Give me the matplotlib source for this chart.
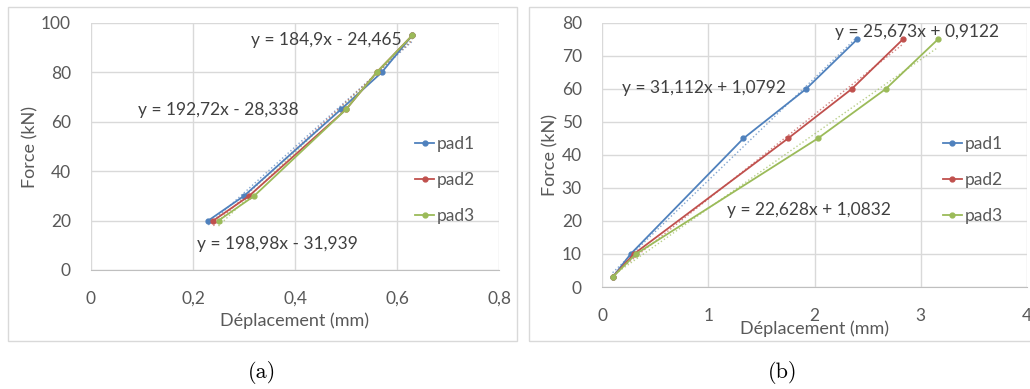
import numpy as np
import matplotlib
matplotlib.use("Agg")
import matplotlib.pyplot as plt
from matplotlib.patches import Rectangle

# donnees
force_a = [20, 30, 65, 80, 95]
dep_a_pad1 = [0.23, 0.30, 0.49, 0.57, 0.63]
dep_a_pad2 = [0.24, 0.31, 0.50, 0.56, 0.63]
dep_a_pad3 = [0.25, 0.32, 0.50, 0.56, 0.63]
eq_a = ["y = 184,9x - 24,465", "y = 192,72x - 28,338", "y = 198,98x - 31,939"]

force_b = [3, 10, 45, 60, 75]
dep_b_pad1 = [0.10, 0.27, 1.33, 1.92, 2.40]
dep_b_pad2 = [0.10, 0.30, 1.75, 2.35, 2.83]
dep_b_pad3 = [0.10, 0.32, 2.03, 2.67, 3.16]
eq_b = ["y = 25,673x + 0,9122", "y = 31,112x + 1,0792", "y = 22,628x + 1,0832"]

noms = ["pad1", "pad2", "pad3"]
couleurs = ["#4F81BD", "#C0504D", "#9BBB59"]

plt.rcParams['font.family'] = ['Lato', 'DejaVu Sans']
W, H = 1030, 389
fig = plt.figure(figsize=(W / 100, H / 100), dpi=100)


def px(x, y):
    return x / W, 1 - y / H


def axe(x0, y0, x1, y1):
    return fig.add_axes([x0 / W, 1 - y1 / H, (x1 - x0) / W, (y1 - y0) / H])


# cadres gris des deux graphes
fig.patches.append(Rectangle(px(8, 341), 509 / W, 334 / H, transform=fig.transFigure,
                             fill=False, ec="#d9d9d9", lw=1))
fig.patches.append(Rectangle(px(529, 341), 510 / W, 334 / H, transform=fig.transFigure,
                             fill=False, ec="#d9d9d9", lw=1))


def graphe(ax, force, deps, xlim, ylim, xticks, yticks, xfmt):
    for d, nom, c in zip(deps, noms, couleurs):
        ax.plot(d, force, color=c, lw=1.3, marker="o", ms=3.5, label=nom, zorder=3)
        # courbe de tendance lineaire
        a, b = np.polyfit(d, force, 1)
        xs = np.array([min(d), max(d)])
        ax.plot(xs, a * xs + b, color=c, lw=1, ls=":", alpha=0.7, zorder=2)
    ax.set_xlim(xlim)
    ax.set_ylim(ylim)
    ax.set_xticks(xticks)
    ax.set_yticks(yticks)
    ax.set_xticklabels([xfmt(t) for t in xticks])
    ax.grid(True, color="#d9d9d9", lw=1)
    ax.set_axisbelow(True)
    for s in ["top", "right", "left"]:
        ax.spines[s].set_visible(False)
    ax.spines["bottom"].set_color("#bfbfbf")
    ax.tick_params(length=0, labelsize=12.5, colors="#595959")
    ax.tick_params(axis="x", pad=15)
    ax.tick_params(axis="y", pad=14.5)


ax1 = axe(91, 23, 499, 270)
graphe(ax1, force_a, [dep_a_pad1, dep_a_pad2, dep_a_pad3], (0, 0.8), (0, 100),
       [0, 0.2, 0.4, 0.6, 0.8], [0, 20, 40, 60, 80, 100],
       lambda t: "0" if t == 0 else ("%.1f" % t).replace(".", ","))
ax1.text(0.314, 93.1, eq_a[0], fontsize=12.5, color="#404040", va="center")
ax1.text(0.092, 64.8, eq_a[1], fontsize=12.5, color="#404040", va="center")
ax1.text(0.208, 10.5, eq_a[2], fontsize=12.5, color="#404040", va="center")
ax1.legend(loc="center left", bbox_to_anchor=(0.794, 0.364), frameon=False,
           borderpad=0, borderaxespad=0, handlelength=1.1, handletextpad=0.15,
           labelspacing=1.15, fontsize=12.5, labelcolor="#595959")

ax2 = axe(602, 23, 1027, 287)
graphe(ax2, force_b, [dep_b_pad1, dep_b_pad2, dep_b_pad3], (0, 4), (0, 80),
       [0, 1, 2, 3, 4], [0, 10, 20, 30, 40, 50, 60, 70, 80],
       lambda t: "%d" % t)
ax2.text(2.193, 77.3, eq_b[0], fontsize=12.5, color="#404040", va="center")
ax2.text(0.188, 60.3, eq_b[1], fontsize=12.5, color="#404040", va="center")
ax2.text(1.176, 23.3, eq_b[2], fontsize=12.5, color="#404040", va="center")
ax2.legend(loc="center left", bbox_to_anchor=(0.802, 0.405), frameon=False,
           borderpad=0, borderaxespad=0, handlelength=1.1, handletextpad=0.15,
           labelspacing=1.15, fontsize=12.5, labelcolor="#595959")

# titres des axes
fig.text(*px(295, 321), "Déplacement (mm)", fontsize=13, color="#595959", ha="center", va="center")
fig.text(*px(30, 147), "Force (kN)", fontsize=13, color="#595959", ha="center", va="center", rotation=90)
fig.text(*px(814, 329), "Déplacement (mm)", fontsize=13, color="#595959", ha="center", va="center")
fig.text(*px(550, 155), "Force (kN)", fontsize=13, color="#595959", ha="center", va="center", rotation=90)

# legendes (a) et (b)
fig.text(*px(262, 372), "(a)", fontsize=16, family="cmr10", ha="center", va="center")
fig.text(*px(783, 372), "(b)", fontsize=16, family="cmr10", ha="center", va="center")

fig.savefig("out.png", dpi=100)
